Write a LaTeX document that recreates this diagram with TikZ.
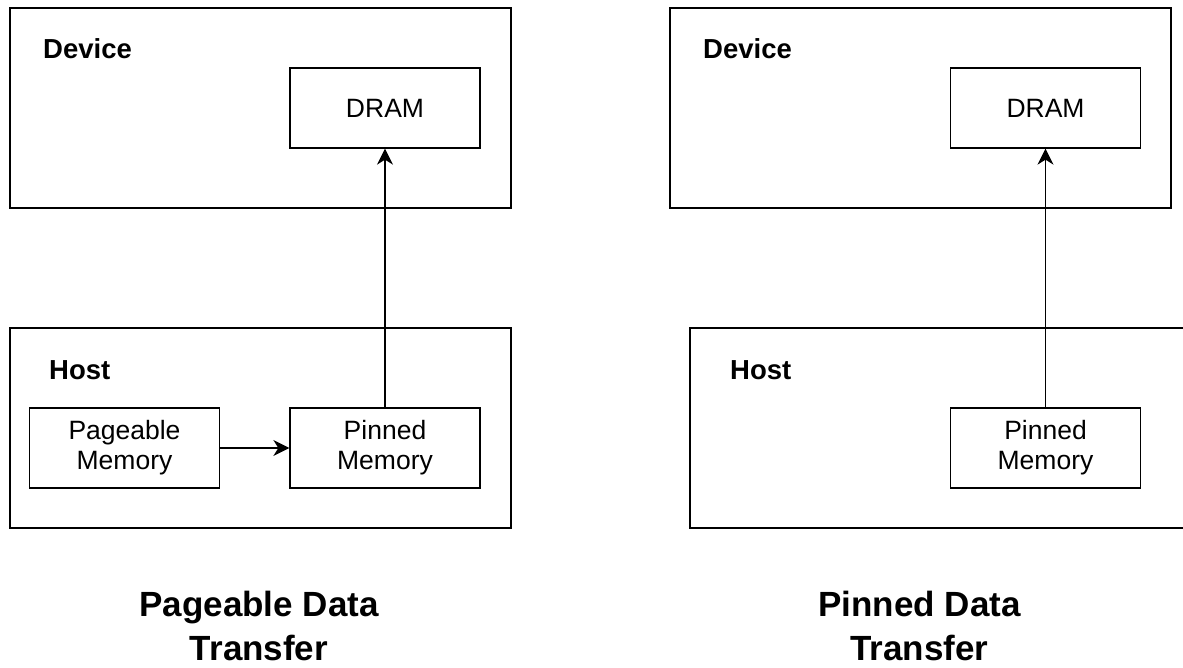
\documentclass[tikz,border=0pt]{standalone}
\usepackage{fontspec}
\setmainfont{Liberation Sans}
\usetikzlibrary{arrows.meta}
\tikzset{
  frame/.style={draw=black, line width=1.3pt},
  membox/.style={draw=black, line width=1.3pt, minimum width=190pt, minimum height=80pt, inner sep=0pt, align=center, font=\fontsize{26.5}{30}\selectfont},
  lbl/.style={anchor=base west, inner sep=0pt, font=\fontsize{27.5}{30}\selectfont\bfseries},
  ttl/.style={inner sep=0pt, align=center, font=\fontsize{35}{44}\selectfont\bfseries},
  conn/.style={line width=1.3pt, -{Stealth[length=16pt, width=16pt, inset=5pt]}}
}
\begin{document}
\begin{tikzpicture}[x=1pt, y=-1pt]
\useasboundingbox (0,0) rectangle (1183,667);
\clip (0,0) rectangle (1183,667);
% left part
\draw[frame] (10,8) rectangle (511,208);
\draw[frame] (10,328) rectangle (511,528);
\node[lbl] (ldev) at (43,58) {Device};
\node[lbl] (lhost) at (49,379) {Host};
\node[membox] (ldram) at (385,108) {DRAM};
\node[membox] (lpage) at (124.5,448) {Pageable\\Memory};
\node[membox] (lpin) at (385,448) {Pinned\\Memory};
\draw[conn] (lpage.east) -- (lpin.west);
\draw[conn] (lpin.north) -- (ldram.south);
\node[ttl] (ltitle) at (259,626) {Pageable Data\\Transfer};
% right part
\draw[frame] (670,8) rectangle (1171,208);
\draw[frame] (1200,528) -- (690,528) -- (690,328) -- (1200,328);
\node[lbl] (rdev) at (703,58) {Device};
\node[lbl] (rhost) at (730,379) {Host};
\node[membox] (rdram) at (1045.5,108) {DRAM};
\node[membox] (rpin) at (1045.5,448) {Pinned\\Memory};
\draw[conn] (rpin.north) -- (rdram.south);
\node[ttl] (rtitle) at (919.5,626) {Pinned Data\\Transfer};
\end{tikzpicture}
\end{document}
